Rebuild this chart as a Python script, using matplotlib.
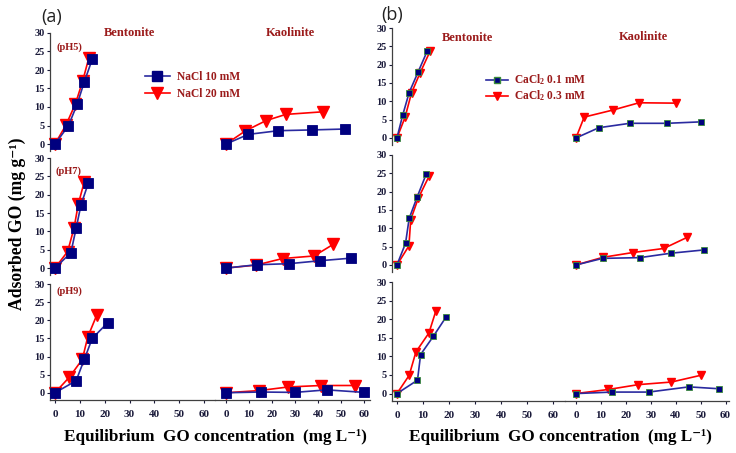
import matplotlib
matplotlib.use("Agg")
import matplotlib.pyplot as plt
from matplotlib.lines import Line2D

plt.rcParams["mathtext.fontset"] = "custom"
plt.rcParams["mathtext.rm"] = "Liberation Serif:bold"
plt.rcParams["mathtext.bf"] = "Liberation Serif:bold"
plt.rcParams["mathtext.default"] = "rm"

# x tick labels, repeated for each mineral block
xticks = [0, 10, 20, 30, 40, 50, 60]
yticks = [0, 5, 10, 15, 20, 25, 30]
ph_labels = ["(pH5)", "(pH7)", "(pH9)"]

# panel (a) NaCl, rows are pH5, pH7, pH9
na10_bent_x = [[0, 5.4, 8.9, 11.8, 15.0], [0, 6.4, 8.5, 10.5, 13.4], [0, 8.5, 11.8, 15.0, 21.2]]
na10_bent_y = [[0, 4.9, 10.7, 16.8, 22.9], [0, 4.2, 10.8, 17.3, 23.1], [0, 3.3, 9.2, 15.0, 19.3]]
na20_bent_x = [[0, 4.4, 8.2, 11.1, 13.6], [0, 5.1, 7.7, 9.4, 11.8], [0, 5.8, 11.0, 13.2, 16.8]]
na20_bent_y = [[0, 5.1, 10.8, 16.9, 23.2], [0, 4.5, 11.0, 17.5, 23.5], [0, 4.3, 9.2, 15.4, 21.4]]
na10_kaol_x = [[0, 9.7, 22.8, 37.3, 51.7], [0, 13.3, 27.5, 40.9, 54.3], [0, 15.0, 30.0, 43.8, 60.0]]
na10_kaol_y = [[0, 2.6, 3.6, 3.8, 4.05], [0, 0.9, 1.2, 2.0, 2.7], [0, 0.2, 0.1, 0.8, 0.1]]
na20_kaol_x = [[0, 8.3, 17.3, 26.0, 42.0], [0, 13.0, 24.6, 38.3, 46.7], [0, 14.5, 27.1, 41.3, 56.2]]
na20_kaol_y = [[0, 3.5, 6.3, 8.0, 8.7], [0, 0.8, 2.6, 3.3, 6.5], [0, 0.6, 1.6, 2.0, 2.0]]

# panel (b) CaCl2
ca01_bent_x = [[0, 2.2, 4.7, 8.2, 11.7], [0, 3.3, 4.7, 7.8, 11.2], [0, 7.9, 9.1, 14.0, 18.8]]
ca01_bent_y = [[0, 6.2, 12.4, 18.1, 23.8], [0, 5.9, 12.7, 18.6, 24.7], [0, 3.6, 10.5, 15.4, 20.5]]
ca03_bent_x = [[0, 3.1, 5.6, 8.8, 12.7], [0, 4.6, 5.3, 8.2, 12.4], [0, 4.7, 7.3, 12.3, 15.0]]
ca03_bent_y = [[0, 5.6, 12.3, 17.6, 23.6], [0, 5.2, 12.4, 18.2, 24.3], [0, 4.9, 11.2, 16.3, 22.3]]
ca01_kaol_x = [[0, 9.2, 21.6, 36.5, 50.3], [0, 10.7, 25.6, 38.0, 51.3], [0, 14.5, 29.2, 45.3, 57.2]]
ca01_kaol_y = [[0, 2.8, 4.0, 4.0, 4.4], [0, 1.8, 2.0, 3.2, 4.1], [0, 0.4, 0.4, 1.8, 1.3]]
ca03_kaol_x = [[0, 3.3, 14.7, 25.3, 40.3], [0, 10.9, 22.9, 35.2, 44.5], [0, 13.0, 25.0, 38.3, 50.0]]
ca03_kaol_y = [[0, 5.7, 7.6, 9.6, 9.5], [0, 2.1, 3.4, 4.5, 7.5], [0, 1.1, 2.4, 3.1, 4.9]]

W, H = 736, 453
BLUE = "#00007f"
LBLUE = "#2a2aa0"
RED = "#ff0000"
DRED = "#9b1b1b"
SERIF = "Liberation Serif"
SERIF_LIST = ["Liberation Serif", "DejaVu Serif"]

fig = plt.figure(figsize=(W / 100, H / 100), dpi=100)


def px_axes(x0, x1, y0, y1):
    return fig.add_axes([x0 / W, 1 - y1 / H, (x1 - x0) / W, (y1 - y0) / H])


def style(ax, left, bottom, xlim):
    for s in ["top", "right"]:
        ax.spines[s].set_visible(False)
    ax.spines["left"].set_visible(left)
    ax.spines["bottom"].set_visible(bottom)
    for s in ["left", "bottom"]:
        ax.spines[s].set_color("#404040")
        ax.spines[s].set_linewidth(0.9)
    ax.set_xlim(*xlim)
    ax.set_ylim(-2, 30)
    ax.patch.set_alpha(0)
    if left:
        ax.set_yticks(yticks)
        ax.tick_params(axis="y", length=2, pad=2, labelsize=7.5, colors="#1a1a3a")
        for t in ax.get_yticklabels():
            t.set_fontfamily(SERIF)
            t.set_fontweight("bold")
    else:
        ax.set_yticks([])
    if bottom:
        ax.set_xticks(xticks)
        ax.tick_params(axis="x", length=2, pad=5, labelsize=8, colors="#1a1a3a")
        for t in ax.get_xticklabels():
            t.set_fontfamily(SERIF)
            t.set_fontweight("bold")
    else:
        ax.set_xticks([])


def draw(ax, x1, y1, x2, y2, ms_sq, ms_tri, sq_edge):
    ax.plot(x1, y1, color=LBLUE, lw=1.2, marker="s", ms=ms_sq, mfc=BLUE,
            mec=sq_edge, mew=0.6, clip_on=False, zorder=3)
    ax.plot(x2, y2, color=RED, lw=1.2, marker="v", ms=ms_tri, mfc=RED,
            mec=RED, clip_on=False, zorder=2)


# panel geometry in pixels: spine x, split x, right edge x, row (top, bottom)
panels = [
    dict(xs=(50, 215, 370), rows=[(33, 151.4), (158, 275.4), (284, 400)],
         lx=(-2, 64.4), rx=(-4.8, 62.6), ms=(6.5, 8.5), edge=BLUE,
         d=(na10_bent_x, na10_bent_y, na20_bent_x, na20_bent_y,
            na10_kaol_x, na10_kaol_y, na20_kaol_x, na20_kaol_y)),
    dict(xs=(392, 565, 729), rows=[(28, 145.3), (155, 272.3), (282, 401)],
         lx=(-1.9, 64.6), rx=(-4.4, 61.4), ms=(5, 6), edge="#3a8a3a",
         d=(ca01_bent_x, ca01_bent_y, ca03_bent_x, ca03_bent_y,
            ca01_kaol_x, ca01_kaol_y, ca03_kaol_x, ca03_kaol_y)),
]

for p in panels:
    x0, xm, x1 = p["xs"]
    bx1, by1, bx2, by2, kx1, ky1, kx2, ky2 = p["d"]
    for r, (t, b) in enumerate(p["rows"]):
        last = r == 2
        axl = px_axes(x0, xm, t, b)
        style(axl, True, last, p["lx"])
        draw(axl, bx1[r], by1[r], bx2[r], by2[r], p["ms"][0], p["ms"][1], p["edge"])
        axr = px_axes(xm, x1, t, b)
        style(axr, False, last, p["rx"])
        draw(axr, kx1[r], ky1[r], kx2[r], ky2[r], p["ms"][0], p["ms"][1], p["edge"])


def ftext(x, y, s, **kw):
    fig.text(x / W, 1 - y / H, s, ha="center", va="center", **kw)


title_kw = dict(fontfamily=SERIF, fontweight="bold", fontsize=9, color=DRED)
ftext(130, 33, "Bentonite", **title_kw)
ftext(290, 33, "Kaolinite", **title_kw)
ftext(467, 38, "Bentonite", **title_kw)
ftext(643, 37, "Kaolinite", **title_kw)

for lab, y in zip(ph_labels, [47, 171, 291]):
    ftext(69, y, lab, fontfamily=SERIF, fontweight="bold", fontsize=7.5, color=DRED)

ftext(52, 17, "(a)", fontfamily="Open Sans", fontsize=13, color="#222222")
ftext(392, 15, "(b)", fontfamily="Open Sans", fontsize=13, color="#222222")

ftext(17, 224, "Adsorbed GO (mg g\u207b\u00b9)", fontfamily=SERIF_LIST, fontweight="bold",
      fontsize=12.7, rotation=90)
xl = "Equilibrium  GO concentration  (mg L\u207b\u00b9)"
ftext(215, 437, xl, fontfamily=SERIF_LIST, fontweight="bold", fontsize=12.3)
ftext(560, 437, xl, fontfamily=SERIF_LIST, fontweight="bold", fontsize=12.3)

leg_a = [Line2D([], [], color=LBLUE, lw=1.2, marker="s", ms=6.5, mfc=BLUE, mec=BLUE),
         Line2D([], [], color=RED, lw=1.2, marker="v", ms=8, mfc=RED, mec=RED)]
leg_b = [Line2D([], [], color=LBLUE, lw=1.2, marker="s", ms=5, mfc=BLUE, mec="#3a8a3a"),
         Line2D([], [], color=RED, lw=1.2, marker="v", ms=5.5, mfc=RED, mec=RED)]
leg_kw = dict(loc="upper left", frameon=False, handletextpad=0.6,
              prop=dict(family=SERIF, weight="bold", size=8.3),
              labelcolor=DRED, borderaxespad=0)
fig.legend(leg_a, ["NaCl 10 mM", "NaCl 20 mM"], bbox_to_anchor=(140 / W, 1 - 66 / H),
           handlelength=2.2, labelspacing=0.45, **leg_kw)
fig.legend(leg_b, ["CaCl$_2$ 0.1 mM", "CaCl$_2$ 0.3 mM"], bbox_to_anchor=(481 / W, 1 - 68 / H),
           handlelength=1.9, labelspacing=0.1, **leg_kw)

fig.savefig("out.png", dpi=100)
